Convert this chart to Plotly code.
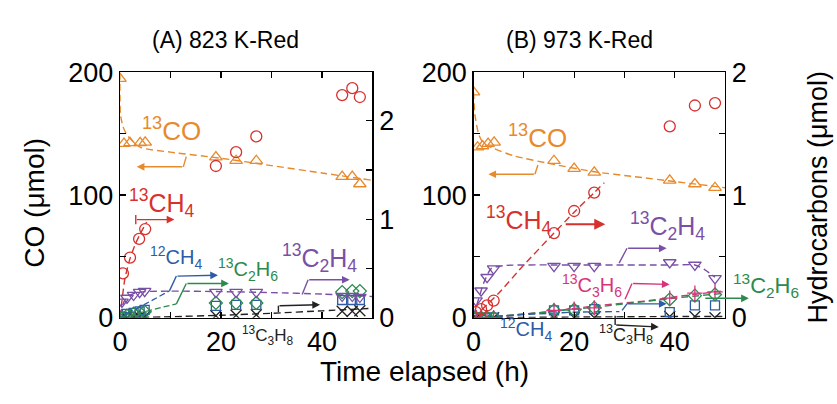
import plotly.graph_objects as go

W, H = 837, 404

# ---------------- Panel A : 823 K-Red ----------------
A_t_CO = [0, 0.8, 2, 4, 5, 19, 23, 27, 44, 46, 47.5]
A_13CO = [195, 142, 142.5, 142.5, 143, 131, 128, 128, 115, 115, 109]
A_t_CH4 = [0.6, 2, 3.8, 5, 19, 23, 27, 44, 46, 47.5]
A_13CH4 = [0.45, 0.61, 0.80, 0.90, 1.54, 1.68, 1.84, 2.26, 2.33, 2.24]
A_t_HC = [0.4, 1.4, 2.7, 3.9, 4.9, 19, 23, 27, 44, 46, 47.5]
A_13C2H4 = [0.16, 0.20, 0.23, 0.26, 0.27, 0.26, 0.26, 0.26, 0.22, 0.22, 0.21]
A_12CH4 = [0.01, 0.04, 0.05, 0.065, 0.08, 0.12, 0.13, 0.13, 0.18, 0.18, 0.18]
A_13C2H6 = [0.0, 0.02, 0.04, 0.05, 0.06, 0.15, 0.15, 0.15, 0.26, 0.27, 0.27]
A_13C3H8 = [0.0, 0.0, 0.005, 0.01, 0.01, 0.02, 0.025, 0.03, 0.065, 0.065, 0.07]

# fitted (dashed) curves
A_fit_CO_t = [0, 0.1, 0.6, 1.4, 4, 10, 20, 30, 40, 50]
A_fit_CO = [200, 166, 156, 149, 139, 135, 130, 124, 118, 112]
A_fit_CH4_t = [0, 1, 2, 3, 4, 5.3]
A_fit_CH4 = [0, 0.40, 0.60, 0.74, 0.85, 0.97]
A_fit_C2H4_t = [0, 0.5, 1, 2, 3, 5, 10, 20, 30, 40, 50]
A_fit_C2H4 = [0.02, 0.12, 0.18, 0.23, 0.25, 0.265, 0.27, 0.265, 0.255, 0.24, 0.215]
A_fit_C3H8_t = [0, 10, 20, 30, 40, 50]
A_fit_C3H8 = [0, 0.01, 0.025, 0.045, 0.07, 0.095]

# ---------------- Panel B : 973 K-Red ----------------
B_t_CO = [0, 0.8, 1.8, 2.9, 4.1, 16, 20, 24, 39, 44, 48]
B_13CO = [184, 139, 140, 142, 143, 128, 121.5, 118.5, 112, 109, 106]
B_t_HC = [0.5, 1.5, 2.7, 4, 16, 20, 24, 39, 44, 48]
B_13CH4 = [0.045, 0.07, 0.10, 0.14, 0.69, 0.87, 1.02, 1.56, 1.73, 1.75]
B_13C2H4 = [0.14, 0.22, 0.33, 0.40, 0.42, 0.42, 0.42, 0.45, 0.43, 0.32]
B_13C3H6 = [0.0, 0.0, 0.0, 0.0, 0.06, 0.07, 0.08, 0.16, 0.20, 0.21]
B_13C2H6 = [0.0, 0.0, 0.0, 0.0, 0.06, 0.065, 0.08, 0.15, 0.18, 0.19]
B_12CH4 = [0.0, 0.0, 0.0, 0.0, 0.06, 0.06, 0.07, 0.045, 0.10, 0.10]
B_13C3H8 = [0.0, 0.0, 0.0, 0.0, 0.0, 0.0, 0.0, 0.01, 0.01, 0.0]

B_fit_CO_t = [0, 0.3, 1, 2, 4, 8, 16, 24, 32, 40, 50]
B_fit_CO = [184, 165, 150, 142, 138, 132, 125, 119, 115, 111, 106]
B_fit_CH4_t = [0, 5, 10, 16, 20, 24, 26]
B_fit_CH4 = [0, 0.20, 0.43, 0.69, 0.86, 1.02, 1.10]
B_fit_C2H4_t = [0, 1, 2, 3.5, 6, 20, 40, 44, 46, 48]
B_fit_C2H4 = [0.02, 0.15, 0.28, 0.40, 0.425, 0.43, 0.43, 0.43, 0.39, 0.33]
B_fit_C3H6_t = [0, 5, 15, 25, 35, 40, 50]
B_fit_C3H6 = [0, 0.01, 0.05, 0.10, 0.14, 0.17, 0.22]
B_fit_C2H6_t = [0, 10, 25, 40, 50]
B_fit_C2H6 = [0, 0.03, 0.09, 0.16, 0.20]
B_fit_12CH4_t = [0, 10, 20, 29]
B_fit_12CH4 = [0, 0.025, 0.045, 0.05]
B_fit_C3H8_t = [0, 20, 40, 50]
B_fit_C3H8 = [0, 0.005, 0.01, 0.01]

C_CO = "#E8892C"
C_CH4 = "#D7312E"
C_C2H4 = "#7A4FA6"
C_12CH4 = "#2D5BA8"
C_C2H6 = "#2C8A4C"
C_C3H8 = "#222222"
C_C3H6 = "#D8337A"

FONT = "Liberation Sans, Arial, Helvetica, sans-serif"

fig = go.Figure()


def fit(x, y, xa, ya, color):
    fig.add_trace(go.Scatter(x=x, y=y, xaxis=xa, yaxis=ya, mode="lines",
                             line=dict(color=color, width=1.4, dash="7px,4px", shape="spline", smoothing=0.6),
                             hoverinfo="skip", showlegend=False))


def pts(x, y, xa, ya, color, symbol, size=10):
    fig.add_trace(go.Scatter(x=x, y=y, xaxis=xa, yaxis=ya, mode="markers",
                             marker=dict(symbol=symbol, size=size, color=color,
                                         line=dict(color=color, width=1.3)),
                             showlegend=False))


# Panel A
fit(A_fit_CO_t, A_fit_CO, "x", "y", C_CO)
fit(A_fit_CH4_t, A_fit_CH4, "x", "y2", C_CH4)
fit(A_fit_C2H4_t, A_fit_C2H4, "x", "y2", C_C2H4)
fit(A_fit_C3H8_t, A_fit_C3H8, "x", "y2", C_C3H8)
pts(A_t_HC, A_13C3H8, "x", "y2", C_C3H8, "x-thin-open", 11)
pts(A_t_HC, A_12CH4, "x", "y2", C_12CH4, "square-open", 9)
pts(A_t_HC, A_13C2H6, "x", "y2", C_C2H6, "diamond-open", 10)
pts(A_t_HC, A_13C2H4, "x", "y2", C_C2H4, "triangle-down-open", 11)
pts(A_t_CH4, A_13CH4, "x", "y2", C_CH4, "circle-open", 11)
pts(A_t_CO, A_13CO, "x", "y", C_CO, "triangle-up-open", 11)

# Panel B
fit(B_fit_CO_t, B_fit_CO, "x2", "y3", C_CO)
fit(B_fit_CH4_t, B_fit_CH4, "x2", "y4", C_CH4)
fit(B_fit_C2H4_t, B_fit_C2H4, "x2", "y4", C_C2H4)
fit(B_fit_C3H6_t, B_fit_C3H6, "x2", "y4", C_C3H6)
fit(B_fit_C2H6_t, B_fit_C2H6, "x2", "y4", C_C2H6)
fit(B_fit_12CH4_t, B_fit_12CH4, "x2", "y4", C_12CH4)
fit(B_fit_C3H8_t, B_fit_C3H8, "x2", "y4", C_C3H8)
pts(B_t_HC, B_13C3H8, "x2", "y4", C_C3H8, "x-thin-open", 11)
pts(B_t_HC, B_12CH4, "x2", "y4", C_12CH4, "square-open", 9)
pts(B_t_HC, B_13C2H6, "x2", "y4", C_C2H6, "diamond-open", 10)
pts(B_t_HC, B_13C3H6, "x2", "y4", C_C3H6, "cross-thin-open", 11)
pts(B_t_HC, B_13C2H4, "x2", "y4", C_C2H4, "triangle-down-open", 11)
pts(B_t_HC, B_13CH4, "x2", "y4", C_CH4, "circle-open", 11)
pts(B_t_CO, B_13CO, "x2", "y3", C_CO, "triangle-up-open", 11)

YDOM = [(H - 327) / H, (H - 62) / H]
tickfont = dict(family=FONT, size=27, color="black")
common = dict(showline=True, linecolor="black", linewidth=1.3, ticks="inside", ticklen=6,
              tickwidth=1.2, tickcolor="black", showgrid=False, zeroline=False, tickfont=tickfont)


def minor(d):
    return dict(dtick=d, tick0=0, ticks="inside", ticklen=6, tickwidth=1.2, tickcolor="black", showgrid=False)


fig.update_layout(
    width=W, height=H, margin=dict(l=0, r=0, t=0, b=0),
    paper_bgcolor="white", plot_bgcolor="white", hovermode=False,
    font=dict(family=FONT, color="black"),
    xaxis=dict(domain=[113 / W, 368 / W], range=[0, 50], anchor="y", mirror="ticks",
               tick0=0, dtick=20, minor=minor(10), **common),
    yaxis=dict(domain=YDOM, range=[0, 200], anchor="x", tick0=0, dtick=100, minor=minor(50), **common),
    yaxis2=dict(range=[0, 2.49], overlaying="y", side="right", anchor="x",
                tick0=0, dtick=1, minor=minor(0.5), **common),
    xaxis2=dict(domain=[470 / W, 724 / W], range=[0, 50], anchor="y3", mirror="ticks",
                tick0=0, dtick=20, minor=minor(10), **common),
    yaxis3=dict(domain=YDOM, range=[0, 200], anchor="x2", tick0=0, dtick=100, minor=minor(50), **common),
    yaxis4=dict(range=[0, 2], overlaying="y3", side="right", anchor="x2",
                tick0=0, dtick=1, minor=minor(0.5), **common),
)

annotations = []
shapes = []


def P(x, y):
    return x / W, 1 - y / H


def text(x, y, s, size, color="black", angle=0):
    px, py = P(x, y)
    annotations.append(dict(x=px, y=py, xref="paper", yref="paper", text=s, showarrow=False,
                            textangle=angle, xanchor="center", yanchor="middle",
                            font=dict(family=FONT, size=size, color=color)))


def callout(points, color, width=1.4, dashed_lead=None):
    if dashed_lead is not None:
        (x0, y0), (x1, y1) = dashed_lead
        a, b = P(x0, y0)
        c, d = P(x1, y1)
        shapes.append(dict(type="line", xref="paper", yref="paper", x0=a, y0=b, x1=c, y1=d,
                           line=dict(color=color, width=1.3, dash="6px,3px")))
    for (x0, y0), (x1, y1) in zip(points[:-2], points[1:-1]):
        a, b = P(x0, y0)
        c, d = P(x1, y1)
        shapes.append(dict(type="line", xref="paper", yref="paper", x0=a, y0=b, x1=c, y1=d,
                           line=dict(color=color, width=width)))
    (tx, ty), (hx, hy) = points[-2], points[-1]
    px, py = P(hx, hy)
    annotations.append(dict(x=px, y=py, xref="paper", yref="paper", text="", showarrow=True,
                            ax=tx - hx, ay=ty - hy, arrowhead=2, arrowsize=1.1, arrowwidth=width,
                            arrowcolor=color, standoff=0, startstandoff=0))


# titles and axis labels
text(220, 27, "(A) 823 K-Red", 23)
text(577, 27, "(B) 973 K-Red", 23)
text(27, 203, "CO (μmol)", 28, angle=-90)
text(818, 197, "Hydrocarbons (μmol)", 27, angle=-90)
text(421, 385, "Time elapsed (h)", 28)

# Panel A labels
text(165, 124, "<sup>13</sup>CO", 26, C_CO)
callout([(180, 153), (177, 164), (130, 164)], C_CO)
text(155, 203, "<sup>13</sup>CH<sub>4</sub>", 25, C_CH4)
shapes.append(dict(type="line", xref="paper", yref="paper", x0=129 / W, x1=129 / W,
                   y0=1 - 216 / H, y1=1 - 226 / H, line=dict(color=C_CH4, width=1.4)))
callout([(129, 221), (168, 221)], C_CH4)
text(170, 262, "<sup>12</sup>CH<sub>4</sub>", 20, C_12CH4)
callout([(163, 298), (170, 282), (212, 281)], C_12CH4, dashed_lead=((113, 327), (163, 298)))
text(242, 275, "<sup>13</sup>C<sub>2</sub>H<sub>6</sub>", 20, C_C2H6)
callout([(170, 312), (180, 290), (223, 290)], C_C2H6, dashed_lead=((113, 327), (170, 312)))
text(315, 262, "<sup>13</sup>C<sub>2</sub>H<sub>4</sub>", 25, C_C2H4)
callout([(297, 302), (303, 286), (345, 286)], C_C2H4)
text(262, 346, "<sup>13</sup>C<sub>3</sub>H<sub>8</sub>", 17, C_C3H8)
callout([(273, 321), (273, 314), (315, 313)], C_C3H8)

# Panel B labels
text(535, 131, "<sup>13</sup>CO", 26, C_CO)
callout([(535, 162), (532, 172), (485, 172)], C_CO)
text(516, 221, "<sup>13</sup>CH<sub>4</sub>", 25, C_CH4)
callout([(562, 226), (603, 226)], C_CH4, width=2)
text(666, 228, "<sup>13</sup>C<sub>2</sub>H<sub>4</sub>", 25, C_C2H4)
callout([(617, 268), (625, 252), (665, 252)], C_C2H4)
text(590, 292, "<sup>13</sup>C<sub>3</sub>H<sub>6</sub>", 20, C_C3H6)
callout([(623, 307), (630, 290), (668, 291)], C_C3H6)
text(765, 292, "<sup>13</sup>C<sub>2</sub>H<sub>6</sub>", 22, C_C2H6)
callout([(703, 306), (748, 306)], C_C2H6)
text(523, 340, "<sup>12</sup>CH<sub>4</sub>", 20, C_12CH4)
callout([(620, 319), (625, 312), (665, 312)], C_12CH4)
text(624, 345, "<sup>13</sup>C<sub>3</sub>H<sub>8</sub>", 18, C_C3H8)
callout([(613, 325), (613, 335), (657, 337)], C_C3H8)

fig.update_layout(annotations=annotations, shapes=shapes)
fig.write_html("out.html", config={"displayModeBar": False, "staticPlot": True},
               post_script="document.body.style.margin='0px';"
                           "document.body.style.overflow='hidden';"
                           "document.documentElement.style.overflow='hidden';")
